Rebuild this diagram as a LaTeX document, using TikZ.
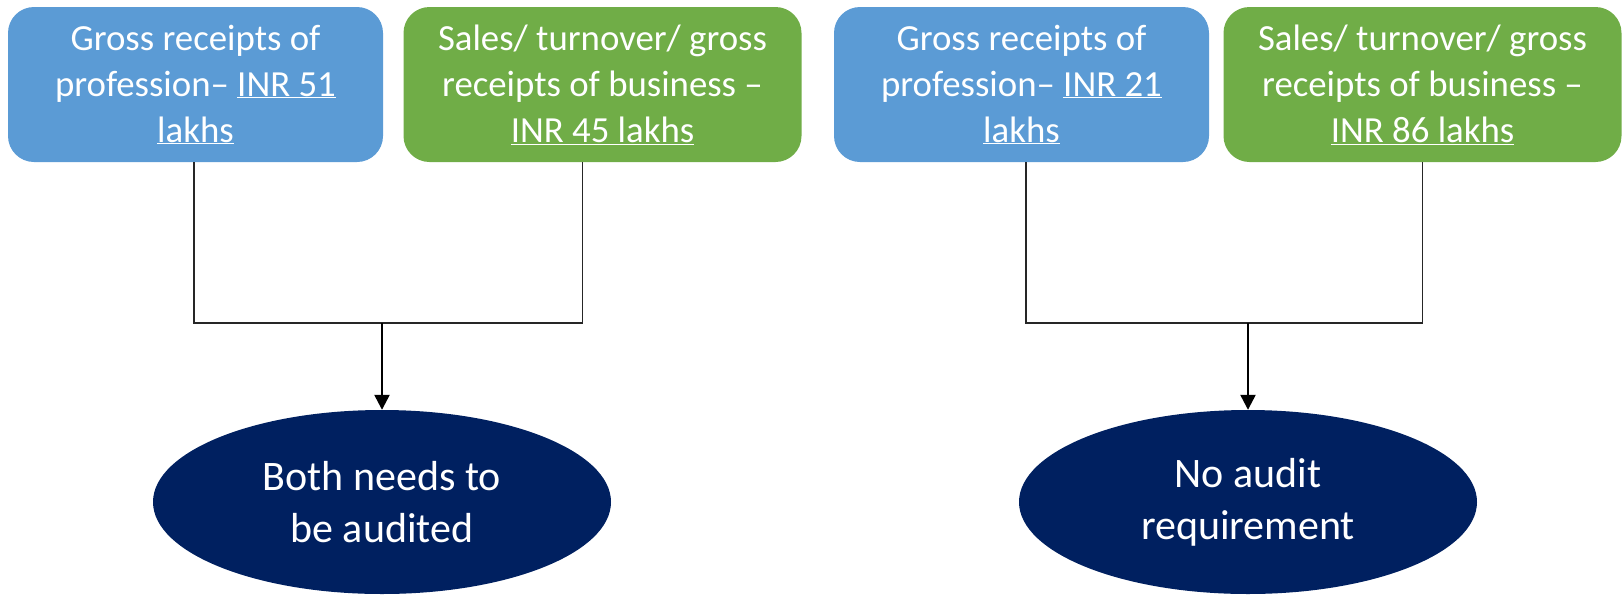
\documentclass[tikz,border=0pt]{standalone}
\usepackage{fontspec}
\setmainfont{Carlito}
\usetikzlibrary{shapes.geometric,arrows.meta}
\definecolor{boxblue}{RGB}{91,155,213}
\definecolor{boxgreen}{RGB}{112,173,71}
\definecolor{navy}{RGB}{0,32,96}
\tikzset{
  box/.style={rounded corners=26pt, draw=none, text=white, align=center,
    minimum height=155pt, inner sep=0pt,
    font=\fontsize{36.8}{46}\selectfont},
  bluebox/.style={box, fill=boxblue, minimum width=375pt},
  greenbox/.style={box, fill=boxgreen, minimum width=398pt},
  result/.style={ellipse, fill=navy, text=white, align=center, inner sep=0pt,
    minimum width=458pt, minimum height=184pt,
    font=\fontsize{42}{52}\selectfont},
  link/.style={draw=black!85, line width=1.2pt},
  flow/.style={draw=black, line width=2.4pt, -{Triangle[length=15pt,width=15pt]}}
}
\begin{document}
\begin{tikzpicture}[x=1pt,y=-1pt]
\useasboundingbox (0,0) rectangle (1623,595);

% first case: both receipts above the limits
\node[bluebox]  (b1) at (195.5,84.5) {Gross receipts of\\profession– \underline{INR 51}\\\underline{lakhs}};
\node[greenbox] (g1) at (602.5,84.5) {Sales/ turnover/ gross\\receipts of business –\\\underline{INR 45 lakhs}};
\node[result]   (e1) at (382,502) {Both needs to\\be audited};

% second case: both receipts within the limits
\node[bluebox]  (b2) at (1021.5,84.5) {Gross receipts of\\profession– \underline{INR 21}\\\underline{lakhs}};
\node[greenbox] (g2) at (1422.5,84.5) {Sales/ turnover/ gross\\receipts of business –\\\underline{INR 86 lakhs}};
\node[result]   (e2) at (1248,502) {No audit\\requirement};

% junction lines and arrows
\coordinate (j1) at (382,323);
\coordinate (j2) at (1248,323);
\draw[link] ([xshift=-1.5pt]b1.south) |- ([xshift=-20pt]g1.south |- j1) -- ([xshift=-20pt]g1.south);
\draw[flow] (j1) -- (e1.north);
\draw[link] ([xshift=4.5pt]b2.south) |- (g2.south |- j2) -- (g2.south);
\draw[flow] (j2) -- (e2.north);
\end{tikzpicture}
\end{document}
